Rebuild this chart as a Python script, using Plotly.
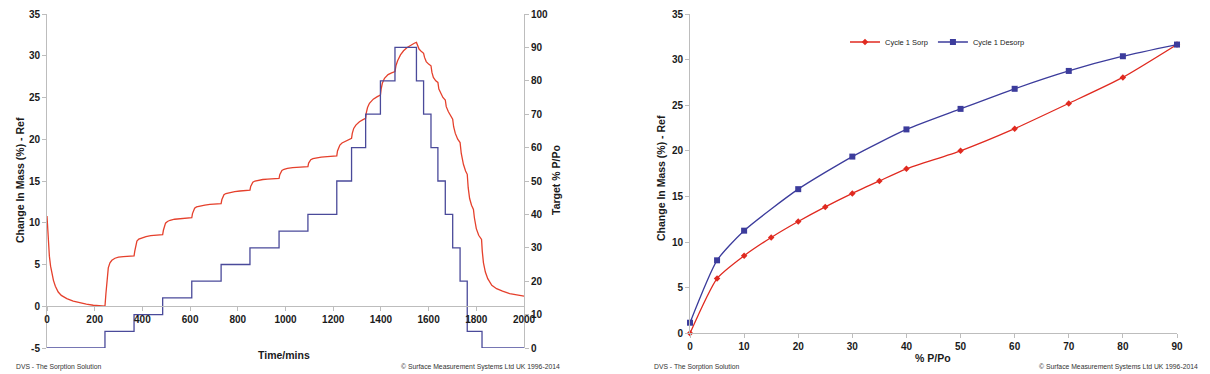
import plotly.graph_objects as go

# page body has an 8px margin; the figure is sized to fill the rest of the 1210x374 window
OFF = 8
W, H = 1210 - OFF, 374 - OFF

# ---------------- data: kinetic plot (left) ----------------
time_min = [0, 3, 6, 10, 15, 20, 27, 35, 47, 60, 83, 110, 138, 165, 194, 220, 243,
            247, 252, 257, 264, 272, 285, 300, 320, 345, 365,
            368, 372, 377, 385, 397, 415, 435, 460, 485,
            488, 492, 497, 505, 516, 535, 558, 583, 607,
            610, 614, 619, 627, 642, 662, 683, 707, 730,
            733, 737, 742, 750, 767, 787, 809, 830, 851,
            854, 858, 863, 872, 886, 905, 925, 950, 973,
            976, 980, 985, 994, 1008, 1030, 1055, 1075, 1094,
            1097, 1101, 1106, 1115, 1130, 1150, 1175, 1195, 1215,
            1218, 1222, 1228, 1237, 1250, 1263, 1277,
            1280, 1286, 1295, 1310, 1325, 1336,
            1339, 1344, 1352, 1368, 1385, 1398,
            1401, 1406, 1415, 1430, 1445, 1459,
            1463, 1470, 1482, 1495, 1510, 1525, 1540, 1549,
            1553, 1560, 1570, 1579, 1583, 1590, 1600, 1610,
            1614, 1620, 1630, 1639, 1643, 1650, 1660, 1670,
            1674, 1683, 1692, 1701, 1705, 1712, 1722, 1732,
            1737, 1746, 1755, 1762, 1766, 1772, 1780, 1788,
            1792, 1800, 1810, 1822, 1825, 1830, 1838, 1848,
            1865, 1885, 1910, 1940, 1970, 2000]
mass_pct = [10.8, 8.9, 7.4, 6.0, 4.8, 4.0, 3.1, 2.4, 1.7, 1.3, 0.92, 0.62, 0.4, 0.25, 0.12, 0.05, 0.0,
            1.5, 3.3, 4.6, 5.2, 5.5, 5.75, 5.88, 5.95, 6.0, 6.02,
            6.6, 7.3, 7.8, 8.05, 8.2, 8.35, 8.45, 8.53, 8.58,
            9.1, 9.6, 9.95, 10.15, 10.3, 10.42, 10.5, 10.55, 10.6,
            11.1, 11.5, 11.75, 11.9, 12.02, 12.12, 12.2, 12.26, 12.3,
            12.75, 13.1, 13.35, 13.5, 13.62, 13.72, 13.8, 13.85, 13.9,
            14.35, 14.65, 14.85, 15.0, 15.1, 15.18, 15.23, 15.27, 15.3,
            15.75, 16.05, 16.25, 16.4, 16.52, 16.6, 16.66, 16.7, 16.72,
            17.15, 17.4, 17.55, 17.68, 17.78, 17.86, 17.93, 17.98, 18.02,
            18.6, 19.0, 19.3, 19.55, 19.75, 19.95, 20.1,
            20.7, 21.3, 21.7, 22.1, 22.35, 22.5,
            23.2, 23.8, 24.3, 24.8, 25.1, 25.3,
            26.0, 26.7, 27.3, 27.75, 27.95, 28.1,
            28.8, 29.4, 30.1, 30.6, 31.0, 31.3, 31.5, 31.6,
            31.2, 30.8, 30.5, 30.3, 29.8, 29.3, 29.0, 28.8,
            28.0, 27.4, 27.0, 26.8, 26.0, 25.5, 25.0, 24.7,
            23.9, 23.3, 22.8, 22.4, 21.5, 20.7, 20.0, 19.6,
            18.3, 17.0, 16.2, 15.8, 14.2, 12.9, 12.1, 11.6,
            10.6, 9.3, 8.5, 8.0, 6.6, 5.2, 4.1, 3.3,
            2.5, 2.1, 1.8, 1.5, 1.35, 1.2]

step_time = [0, 243, 365, 485, 607, 730, 851, 973, 1094, 1215, 1277, 1336, 1398, 1459,
             1549, 1579, 1610, 1639, 1670, 1701, 1732, 1762, 1824, 2000]
target_ppo = [0, 5, 10, 15, 20, 25, 30, 35, 40, 50, 60, 70, 80, 90,
              80, 70, 60, 50, 40, 30, 20, 5, 0, 0]

left_y_ticks = [-5, 0, 5, 10, 15, 20, 25, 30, 35]
left_y_ticktext = ["-5", "0", "5", "10", "15", "20", "25", "30", "35"]

# ---------------- data: isotherm (right) ----------------
sorp_ppo = [0, 5, 10, 15, 20, 25, 30, 35, 40, 50, 60, 70, 80, 90]
sorp_mass = [0.0, 6.0, 8.5, 10.5, 12.25, 13.85, 15.33, 16.7, 18.03, 20.0, 22.43, 25.2, 28.05, 31.65]
desorp_ppo = [90, 80, 70, 60, 50, 40, 30, 20, 10, 5, 0]
desorp_mass = [31.65, 30.37, 28.76, 26.8, 24.6, 22.35, 19.37, 15.8, 11.25, 8.0, 1.16]

RED = "#e5402c"
BLUE_STEP = "#4a4a9a"
RED2 = "#e02a20"
BLUE2 = "#3c3c9c"
AXIS = "#bdbdbd"
TXT = "#1a1a1a"

def px_x(p):
    return (p - OFF) / W

def px_y(p):
    return 1 - (p - OFF) / H

# plot areas in window pixels
L_x0, L_x1, L_y0, L_y1 = 47, 524, 14, 348
R_x0, R_x1, R_y0, R_y1 = 690, 1177, 14, 333.3

tickfont = dict(family="Liberation Sans, Arial", size=10, color=TXT, weight="bold")

fig = go.Figure()

fig.add_trace(go.Scatter(x=time_min, y=mass_pct, mode="lines",
                         line=dict(color=RED, width=1.3), xaxis="x", yaxis="y",
                         showlegend=False, cliponaxis=False))
fig.add_trace(go.Scatter(x=step_time, y=target_ppo, mode="lines",
                         line=dict(color=BLUE_STEP, width=1.3, shape="hv"),
                         xaxis="x", yaxis="y2", showlegend=False, cliponaxis=False))

fig.add_trace(go.Scatter(x=sorp_ppo, y=sorp_mass, mode="lines+markers", name="Cycle 1 Sorp",
                         line=dict(color=RED2, width=1.3, shape="spline", smoothing=0.6),
                         marker=dict(symbol="diamond", size=5, color=RED2),
                         xaxis="x3", yaxis="y3", cliponaxis=False))
fig.add_trace(go.Scatter(x=desorp_ppo, y=desorp_mass, mode="lines+markers", name="Cycle 1 Desorp",
                         line=dict(color=BLUE2, width=1.3, shape="spline", smoothing=0.6),
                         marker=dict(symbol="square", size=6, color=BLUE2),
                         xaxis="x3", yaxis="y3", cliponaxis=False))

ydom_L = [px_y(L_y1), px_y(L_y0)]
zero_pos = ydom_L[0] + (0 - (-5)) / 40 * (ydom_L[1] - ydom_L[0])

axis_common = dict(showgrid=False, zeroline=False, showline=True, linecolor=AXIS, linewidth=1,
                   ticks="outside", tickcolor=AXIS, ticklen=4, tickfont=tickfont,
                   automargin=False)

fig.update_layout(
    width=W, height=H,
    margin=dict(l=0, r=0, t=0, b=0, pad=0, autoexpand=False),
    paper_bgcolor="white", plot_bgcolor="white",
    xaxis=dict(domain=[px_x(L_x0), px_x(L_x1)], range=[0, 2000], dtick=200, tick0=0,
               anchor="free", position=zero_pos, **axis_common),
    yaxis=dict(domain=ydom_L, range=[-5, 35], tickvals=left_y_ticks, ticktext=left_y_ticktext,
               anchor="x", **axis_common),
    yaxis2=dict(range=[0, 100], dtick=10, tick0=0, overlaying="y", side="right", anchor="x",
                **axis_common),
    xaxis3=dict(domain=[px_x(R_x0), px_x(R_x1)], range=[0, 90], dtick=10, tick0=0, anchor="y3",
                **axis_common),
    yaxis3=dict(domain=[px_y(R_y1), px_y(R_y0)], range=[0, 35], dtick=5, tick0=0, anchor="x3",
                **axis_common),
    legend=dict(orientation="h", x=px_x(845), y=px_y(42), xanchor="left", yanchor="middle",
                font=dict(family="Liberation Sans Narrow, Liberation Sans", size=7.5, color="#222"),
                itemwidth=30, bgcolor="rgba(0,0,0,0)", tracegroupgap=0),
    showlegend=True,
)

title_font = dict(family="Liberation Sans, Arial", size=10.5, color=TXT, weight="bold")
foot_font = dict(family="Liberation Sans Narrow, Liberation Sans", size=6.8, color="#333")

annots = [
    dict(text="Change In Mass (%) - Ref", x=px_x(20), y=px_y(180), textangle=-90, font=title_font),
    dict(text="Target % P/Po", x=px_x(556), y=px_y(180), textangle=-90, font=title_font),
    dict(text="Time/mins", x=px_x(284), y=px_y(355), font=title_font),
    dict(text="Change In Mass (%) - Ref", x=px_x(661), y=px_y(178), textangle=-90, font=title_font),
    dict(text="% P/Po", x=px_x(933), y=px_y(358), font=title_font),
]
for a in annots:
    fig.add_annotation(xref="paper", yref="paper", showarrow=False, xanchor="center",
                       yanchor="middle", **a)

for txt, x, anchor in [("DVS - The Sorption Solution", 14, "left"),
                       ("© Surface Measurement Systems Ltd UK 1996-2014", 562, "right"),
                       ("DVS - The Sorption Solution", 652, "left"),
                       ("© Surface Measurement Systems Ltd UK 1996-2014", 1200, "right")]:
    fig.add_annotation(xref="paper", yref="paper", showarrow=False, text=txt,
                       x=px_x(x), y=px_y(367), xanchor=anchor, yanchor="middle", font=foot_font)

fig.write_html("out.html")
